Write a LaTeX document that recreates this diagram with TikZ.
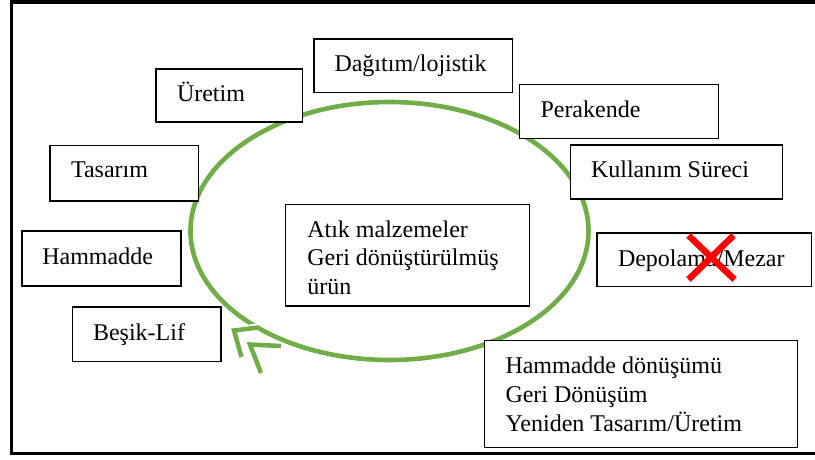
\documentclass[tikz,border=0pt]{standalone}
\usepackage{fontspec}
\setmainfont{Liberation Serif}
\definecolor{cyclegreen}{HTML}{70AD47}
\begin{document}
\begin{tikzpicture}[x=1pt,y=-1pt,
  stagebox/.style={draw=black, line width=1.8pt, fill=white, rectangle,
    inner sep=0pt, outer sep=0pt, anchor=north west},
  lbl/.style={anchor=base west, inner sep=0pt, outer sep=0pt,
    font=\fontsize{24}{29}\selectfont, text=black},
  ring/.style={draw=cyclegreen, line width=4.6pt},
  chev/.style={draw=cyclegreen, line width=4.5pt, line join=miter, miter limit=10},
  chevhalo/.style={draw=white, line width=8pt, line join=miter, miter limit=10},
  cross/.style={draw=red, line width=6.5pt}
]
\useasboundingbox (0,0) rectangle (815,459);

% outer frame (open on the right)
\draw[line width=3.6pt] (815,2) -- (11.3,2) -- (11.3,453.4) -- (815,453.4);

% life-cycle ring
\draw[ring] (389.5,231) ellipse [x radius=199pt, y radius=129pt];

% double chevron on the ring
\draw[chevhalo] (258,327.5) -- (234,330.5) -- (241.5,357);
\draw[chevhalo] (281,346) -- (250,344.5) -- (261,373);
\draw[chev] (258,327.5) -- (234,330.5) -- (241.5,357);
\draw[chev] (281,346) -- (250,344.5) -- (261,373);

% stage boxes
\node[stagebox, minimum width=146.5pt, minimum height=53pt] (uretim) at (156,69) {};
\node[stagebox, minimum width=198.5pt, minimum height=53.5pt] (dagitim) at (314,39) {};
\node[stagebox, minimum width=199pt, minimum height=54pt] (perakende) at (519.5,84.5) {};
\node[stagebox, minimum width=212pt, minimum height=54pt] (kullanim) at (570.5,145) {};
\node[stagebox, minimum width=148.5pt, minimum height=55.5pt] (tasarim) at (50,145.5) {};
\node[stagebox, minimum width=159pt, minimum height=55pt] (hammadde) at (22,231) {};
\node[stagebox, minimum width=214.5pt, minimum height=53.5pt] (depolama) at (597,233) {};
\node[stagebox, minimum width=148.5pt, minimum height=54.5pt] (besik) at (72.5,307) {};
\node[stagebox, minimum width=244pt, minimum height=101.5pt] (atik) at (285.5,204.5) {};
\node[stagebox, minimum width=313pt, minimum height=107pt] (donusum) at (484.5,340.5) {};

% labels
\node[lbl] (uretimT) at (177,101.5) {Üretim};
\node[lbl] (dagitimT) at (334.5,71.5) {Dağıtım/lojistik};
\node[lbl] (perakendeT) at (540.5,117) {Perakende};
\node[lbl] (kullanimT) at (591,177.5) {Kullanım Süreci};
\node[lbl] (tasarimT) at (71,177.7) {Tasarım};
\node[lbl] (hammaddeT) at (42.3,264) {Hammadde};
\node[lbl] (depolamaT) at (618,266.5) {Depolama/Mezar};
\node[lbl] (besikT) at (93,340) {Beşik-Lif};
\node[lbl] (atikA) at (307.3,237.3) {Atık malzemeler};
\node[lbl] (atikB) at (307.3,265.8) {Geri dönüştürülmüş};
\node[lbl] (atikC) at (307.3,294.3) {ürün};
\node[lbl] (donusumA) at (505.5,373) {Hammadde dönüşümü};
\node[lbl] (donusumB) at (505.5,402) {Geri Dönüşüm};
\node[lbl] (donusumC) at (505.5,431) {Yeniden Tasarım/Üretim};

% crossed-out end of life
\draw[cross] (688.5,235.5) -- (734.5,279.5);
\draw[cross] (733.5,235.5) -- (688.5,279.5);
\end{tikzpicture}
\end{document}
